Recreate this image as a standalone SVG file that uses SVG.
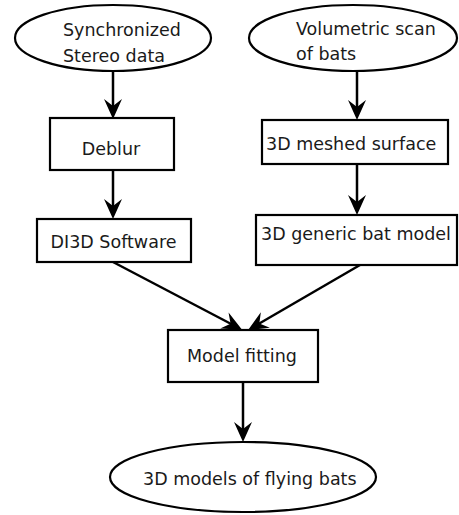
<svg xmlns="http://www.w3.org/2000/svg" width="459" height="515" viewBox="0 0 459 515">
<defs>
<marker id="ah" markerUnits="userSpaceOnUse" viewBox="-14 -10 24 20" refX="0" refY="0" markerWidth="24" markerHeight="20" orient="auto">
<path d="M8,0 L-12,-9 L-5,0 L-12,9 Z" fill="#000"/>
</marker>
</defs>
<style>
.shape{fill:#fff;stroke:#000;stroke-width:2.2}
.lbl{font-family:"DejaVu Sans",sans-serif;font-size:17.5px;fill:#1a1a1a}
.mid{text-anchor:middle}
.conn line{stroke:#000;stroke-width:2.5;marker-end:url(#ah)}
</style>
<rect width="459" height="515" fill="#fff"/>
<g class="conn" id="connectors">
<line x1="113" y1="72" x2="113" y2="111"/>
<line x1="113" y1="170" x2="113" y2="211"/>
<line x1="357" y1="72" x2="357" y2="112"/>
<line x1="357" y1="164" x2="357" y2="207"/>
<line x1="113" y1="262" x2="235" y2="326"/>
<line x1="360" y1="265" x2="255" y2="326"/>
<line x1="243" y1="382" x2="243" y2="434"/>
</g>
<g id="n-sync">
<ellipse class="shape" cx="113" cy="38" rx="98" ry="33"/>
<text class="lbl" x="63" y="36">Synchronized</text>
<text class="lbl" x="63" y="62">Stereo data</text>
</g>
<g id="n-vol">
<ellipse class="shape" cx="353" cy="38" rx="104" ry="33"/>
<text class="lbl" x="296" y="35">Volumetric scan</text>
<text class="lbl" x="296" y="60">of bats</text>
</g>
<g id="n-deblur">
<rect class="shape" x="50" y="118" width="124" height="52"/>
<text class="lbl mid" x="111" y="155">Deblur</text>
</g>
<g id="n-di3d">
<rect class="shape" x="37" y="219" width="154" height="43"/>
<text class="lbl mid" x="113.5" y="248">DI3D Software</text>
</g>
<g id="n-mesh">
<rect class="shape" x="262" y="120" width="186" height="44"/>
<text class="lbl" x="266" y="150">3D meshed surface</text>
</g>
<g id="n-generic">
<rect class="shape" x="256" y="215" width="201" height="50"/>
<text class="lbl" x="261" y="240">3D generic bat model</text>
</g>
<g id="n-fit">
<rect class="shape" x="168" y="330" width="150" height="52"/>
<text class="lbl" x="187" y="362">Model fitting</text>
</g>
<g id="n-out">
<ellipse class="shape" cx="243" cy="477" rx="133" ry="35"/>
<text class="lbl" x="143" y="485">3D models of flying bats</text>
</g>
</svg>
